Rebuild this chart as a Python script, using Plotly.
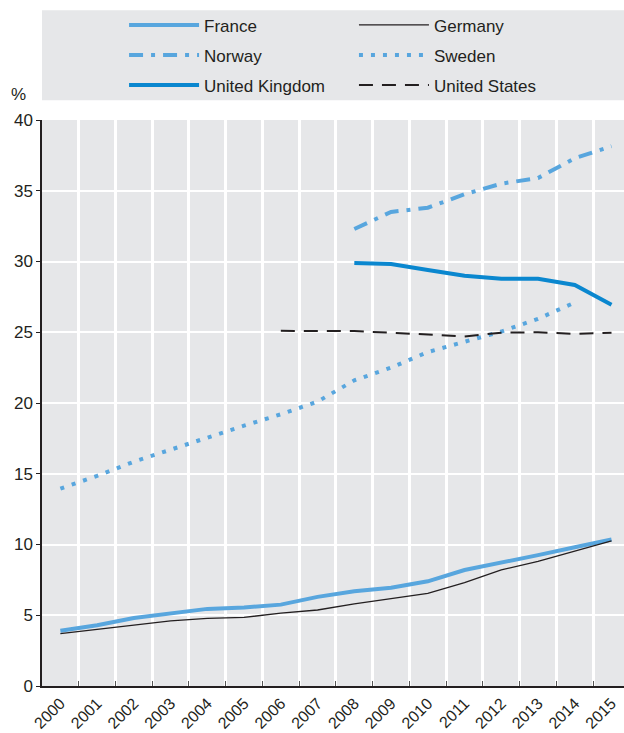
import plotly.graph_objects as go

# Values (%)
years = list(range(2000, 2016))

france = [3.9, 4.3, 4.8, 5.15, 5.45, 5.55, 5.75, 6.3, 6.7, 6.95, 7.4, 8.2, 8.7, 9.25, 9.8, 10.35]
germany = [3.7, 4.0, 4.3, 4.6, 4.78, 4.85, 5.15, 5.37, 5.8, 6.2, 6.55, 7.3, 8.2, 8.8, 9.5, 10.25]
norway_years = list(range(2008, 2016))
norway = [32.3, 33.5, 33.8, 34.75, 35.5, 35.9, 37.3, 38.15]
sweden_years = list(range(2000, 2015))
sweden = [13.95, 14.85, 15.85, 16.7, 17.6, 18.4, 19.2, 20.1, 21.6, 22.5, 23.6, 24.3, 25.05, 25.95, 27.1]
uk_years = list(range(2008, 2016))
uk = [29.9, 29.83, 29.4, 29.0, 28.78, 28.78, 28.34, 26.95]
us_years = list(range(2006, 2016))
us = [25.1, 25.1, 25.08, 24.97, 24.83, 24.7, 24.97, 25.0, 24.88, 24.97]

LIGHT = "#58a6de"
DARK = "#0a87cf"
INK = "#231f20"
BG = "#e6e7e9"
FONT = "Liberation Sans Narrow, Arial Narrow, Liberation Sans, sans-serif"

fig = go.Figure()

# left legend column: France, Norway, UK ; right column: Germany, Sweden, US
fig.add_trace(go.Scatter(x=years, y=france, mode="lines", name="France",
                         legend="legend", legendgroup="fr",
                         line=dict(color=LIGHT, width=4)))
fig.add_trace(go.Scatter(x=norway_years, y=norway, mode="lines", name="Norway",
                         legend="legend", legendgroup="no",
                         line=dict(color=LIGHT, width=4, dash="14px,8px,4px,8px")))
fig.add_trace(go.Scatter(x=uk_years, y=uk, mode="lines", name="United Kingdom",
                         legend="legend", legendgroup="uk",
                         line=dict(color=DARK, width=4)))
fig.add_trace(go.Scatter(x=years, y=germany, mode="lines", name="Germany",
                         legend="legend2", legendgroup="de",
                         line=dict(color=INK, width=1.3)))
fig.add_trace(go.Scatter(x=sweden_years, y=sweden, mode="lines", name="Sweden",
                         legend="legend2", legendgroup="se",
                         line=dict(color=LIGHT, width=4, dash="4px,8px")))
fig.add_trace(go.Scatter(x=us_years, y=us, mode="lines", name="United States",
                         legend="legend2", legendgroup="us",
                         line=dict(color=INK, width=2, dash="14px,9px")))

# category boundaries carry the vertical grid
bounds = [y + 0.5 for y in years[:-1]]

fig.update_xaxes(
    range=[1999.5, 2015.34],
    tickvals=years, ticktext=[str(y) for y in years],
    tickangle=-45, showgrid=False, ticks="",
    showline=True, linecolor=INK, linewidth=1.5,
    tickfont=dict(size=16, color=INK),
    minor=dict(tickvals=bounds, showgrid=True, gridcolor="white", gridwidth=2.5,
               ticks="inside", ticklen=5, tickcolor="#555555", tickwidth=1),
    zeroline=False,
)
fig.update_yaxes(
    range=[0, 40], dtick=5,
    showgrid=True, gridcolor="white", gridwidth=2,
    showline=True, linecolor=INK, linewidth=1.5,
    ticks="outside", ticklen=4, tickcolor=INK,
    tickfont=dict(size=17, color=INK),
    zeroline=False,
)

fig.add_annotation(text="%", xref="paper", yref="paper", x=-0.041, y=1.045,
                   showarrow=False, font=dict(size=17, color=INK),
                   xanchor="center", yanchor="middle")

# grey band behind the legend
fig.add_shape(type="rect", xref="paper", yref="paper", x0=0, x1=1, y0=1.035, y1=1.194,
              fillcolor=BG, line=dict(width=0), layer="below")

leg = dict(orientation="v", y=1.199, xanchor="left", yanchor="top",
           bgcolor="rgba(0,0,0,0)", font=dict(size=17, color=INK),
           itemwidth=70, tracegroupgap=5, traceorder="grouped")

fig.update_layout(
    width=624, height=733,
    margin=dict(l=42, r=0, t=120, b=47, autoexpand=False),
    paper_bgcolor="white", plot_bgcolor=BG,
    font=dict(family=FONT, color=INK),
    showlegend=True,
    legend=dict(leg, x=0.141),
    legend2=dict(leg, x=0.536),
)

# drop the default page margin so the figure fills the window exactly
fig.write_html("out.html", config={"displayModeBar": False},
               post_script="document.body.style.margin='0';document.body.style.overflow='hidden';")
